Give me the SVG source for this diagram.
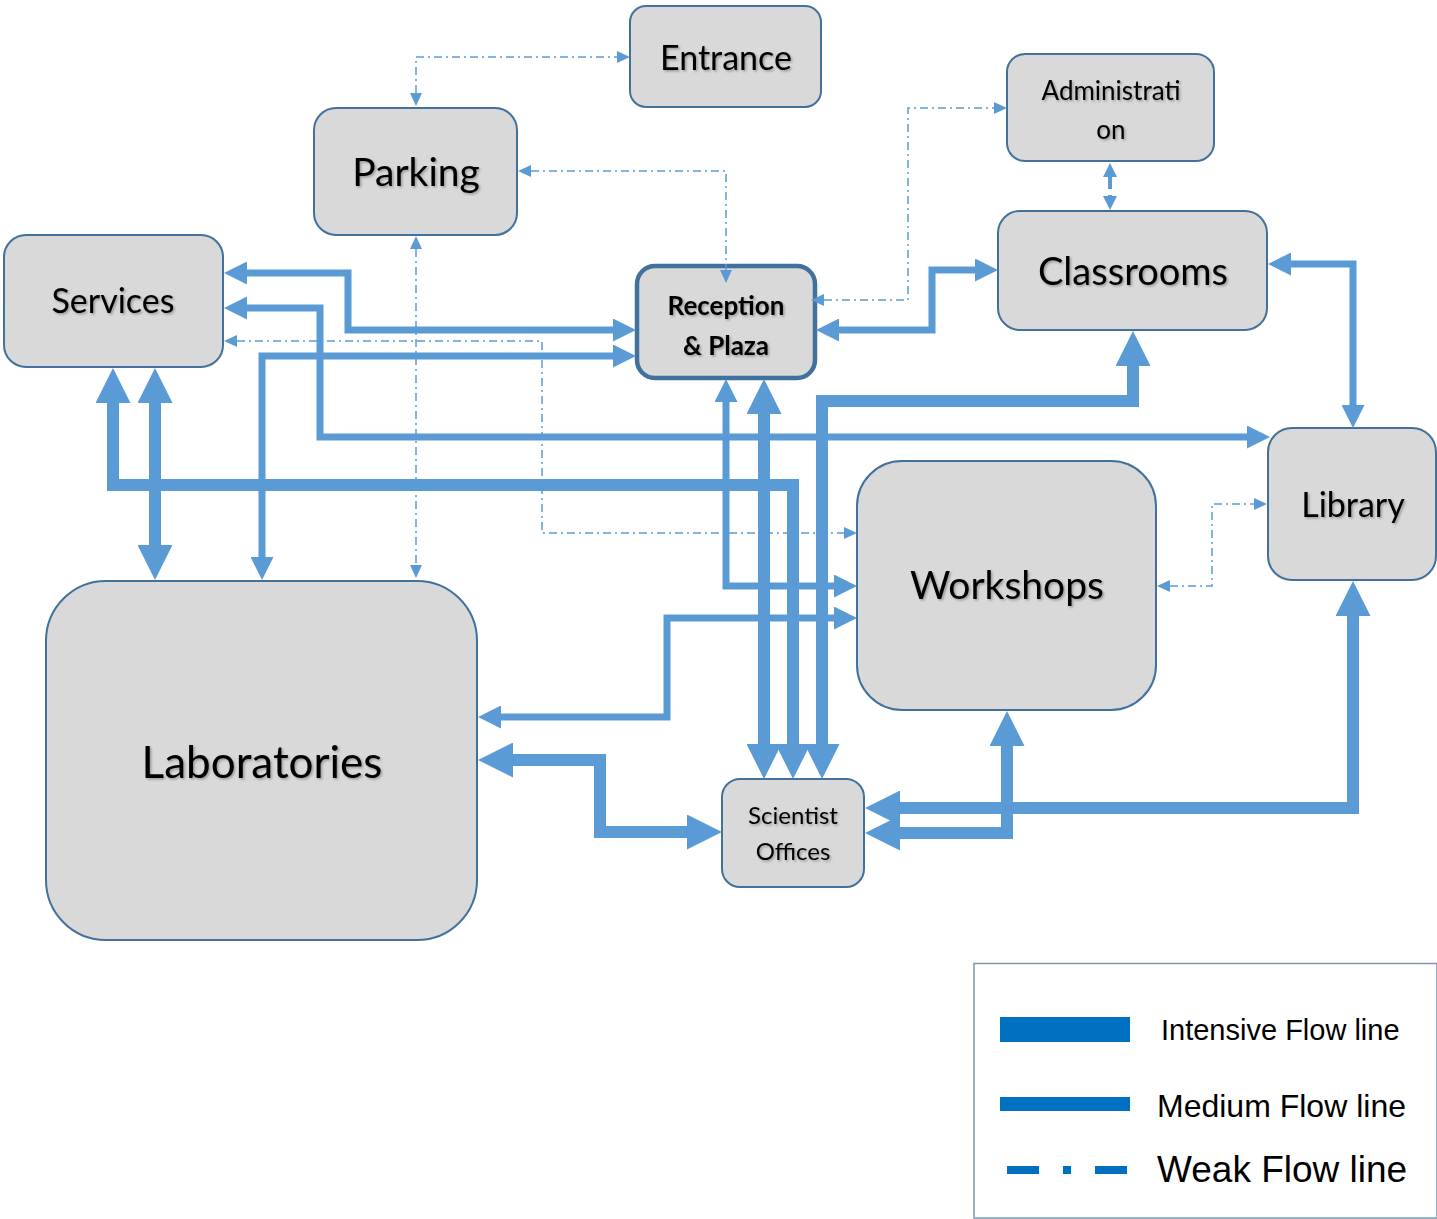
<svg xmlns="http://www.w3.org/2000/svg" width="1437" height="1219" viewBox="0 0 1437 1219">
<defs>
<style>
.node rect{fill:#D9D9D9;stroke:#41719C;stroke-width:2}
.node text{font-family:Lato,"Open Sans",sans-serif;fill:#000;text-anchor:middle;filter:url(#sh)}
.c{fill:none;stroke:#5B9BD5;stroke-linejoin:miter}
.i{stroke-width:12;marker-start:url(#hi);marker-end:url(#hi)}
.m{stroke-width:7;marker-start:url(#hm);marker-end:url(#hm)}
.w{stroke-width:1.5;stroke-dasharray:8 4 2 4;marker-start:url(#hw);marker-end:url(#hw)}
.s{stroke-width:4;stroke-dasharray:12 6;marker-start:url(#hs);marker-end:url(#hs)}
.lg{font-family:"Liberation Sans",Arial,sans-serif;fill:#000}
</style>
<filter id="sh" x="-10%" y="-20%" width="130%" height="150%">
<feDropShadow dx="1.5" dy="1.5" stdDeviation="1" flood-color="#000" flood-opacity="0.3"/>
</filter>
<marker id="hi" markerUnits="userSpaceOnUse" viewBox="0 0 35 35" markerWidth="35" markerHeight="35" refX="0" refY="17.5" orient="auto-start-reverse"><path d="M0,0L35,17.5L0,35z" fill="#5B9BD5"/></marker>
<marker id="hm" markerUnits="userSpaceOnUse" viewBox="0 0 23 23" markerWidth="23" markerHeight="23" refX="0" refY="11.5" orient="auto-start-reverse"><path d="M0,0L23,11.5L0,23z" fill="#5B9BD5"/></marker>
<marker id="hw" markerUnits="userSpaceOnUse" viewBox="0 0 13 12" markerWidth="13" markerHeight="12" refX="0" refY="6" orient="auto-start-reverse"><path d="M0,0L13,6L0,12z" fill="#5B9BD5"/></marker>
<marker id="hs" markerUnits="userSpaceOnUse" viewBox="0 0 14 14" markerWidth="14" markerHeight="14" refX="0" refY="7" orient="auto-start-reverse"><path d="M0,0L14,7L0,14z" fill="#5B9BD5"/></marker>
</defs>
<rect width="1437" height="1219" fill="#fff"/>

<g id="entrance" class="node"><rect x="630" y="6" width="191" height="101" rx="16"/><text x="726" y="70" font-size="34">Entrance</text></g>
<g id="parking" class="node"><rect x="314" y="108" width="203" height="127" rx="22"/><text x="416" y="186" font-size="39">Parking</text></g>
<g id="administration" class="node"><rect x="1007" y="54" width="207" height="107" rx="18"/><text x="1111" y="100" font-size="26">Administrati</text><text x="1111" y="139" font-size="26">on</text></g>
<g id="classrooms" class="node"><rect x="998" y="211" width="269" height="119" rx="22"/><text x="1133" y="285" font-size="38">Classrooms</text></g>
<g id="services" class="node"><rect x="4" y="235" width="219" height="132" rx="22"/><text x="113" y="313" font-size="34">Services</text></g>
<g id="reception" class="node"><rect x="637" y="266" width="178" height="112" rx="18" style="stroke-width:4.5"/><text x="726" y="315" font-size="26" font-weight="bold">Reception</text><text x="726" y="355" font-size="26" font-weight="bold">&amp; Plaza</text></g>
<g id="library" class="node"><rect x="1268" y="428" width="168" height="152" rx="24"/><text x="1353" y="517" font-size="34">Library</text></g>
<g id="workshops" class="node"><rect x="857" y="461" width="299" height="249" rx="45"/><text x="1007" y="599" font-size="39">Workshops</text></g>
<g id="laboratories" class="node"><rect x="46" y="581" width="431" height="359" rx="60"/><text x="262" y="778" font-size="44">Laboratories</text></g>
<g id="scientist-offices" class="node"><rect x="722" y="779" width="142" height="108" rx="18"/><text x="793" y="824" font-size="24">Scientist</text><text x="793" y="860" font-size="24">Offices</text></g>

<g id="connectors">
<path class="c i" d="M155,403L155,545"/>
<path class="c i" d="M113,403L113,485L793,485L793,744"/>
<path class="c i" d="M764,414L764,744"/>
<path class="c i" d="M1133,366L1133,401L822,401L822,744"/>
<path class="c i" d="M513,760L600,760L600,832L687,832"/>
<path class="c i" d="M1007,746L1007,833L900,833"/>
<path class="c i" d="M1353,616L1353,808L900,808"/>
<path class="c m" d="M247,273L348,273L348,330L613,330"/>
<path class="c m" d="M247,308L320,308L320,437L1247,437"/>
<path class="c m" d="M262,557L262,356L613,356"/>
<path class="c m" d="M726,402L726,586L834,586"/>
<path class="c m" d="M501,717L667,717L667,618L834,618"/>
<path class="c m" d="M839,330L932,330L932,270L975,270"/>
<path class="c m" d="M1291,264L1353,264L1353,405"/>
<path class="c w" d="M416,93L416,57L617,57"/>
<path class="c w" d="M531,171L726,171L726,270"/>
<path class="c w" d="M824,300L908,300L908,108L994,108"/>
<path class="c w" d="M416,249L416,565"/>
<path class="c w" d="M237,341L542,341L542,533L844,533"/>
<path class="c w" d="M1170,586L1212,586L1212,504L1254,504"/>
<path class="c s" d="M1110,177L1110,196"/>
</g>

<g id="legend">
<rect x="974" y="963.5" width="463" height="254.5" fill="#fff" stroke="#7F97B5" stroke-width="1.5"/>
<rect x="1000" y="1017" width="130" height="25" fill="#0070C0"/>
<rect x="1000" y="1097" width="130" height="14" fill="#0070C0"/>
<rect x="1007" y="1166" width="32" height="8" fill="#0070C0"/>
<rect x="1063" y="1166" width="8" height="8" fill="#0070C0"/>
<rect x="1095" y="1166" width="32" height="8" fill="#0070C0"/>
<text class="lg" x="1161" y="1040" font-size="29">Intensive Flow line</text>
<text class="lg" x="1157" y="1117" font-size="32">Medium Flow line</text>
<text class="lg" x="1157" y="1182" font-size="37">Weak Flow line</text>
</g>
</svg>
